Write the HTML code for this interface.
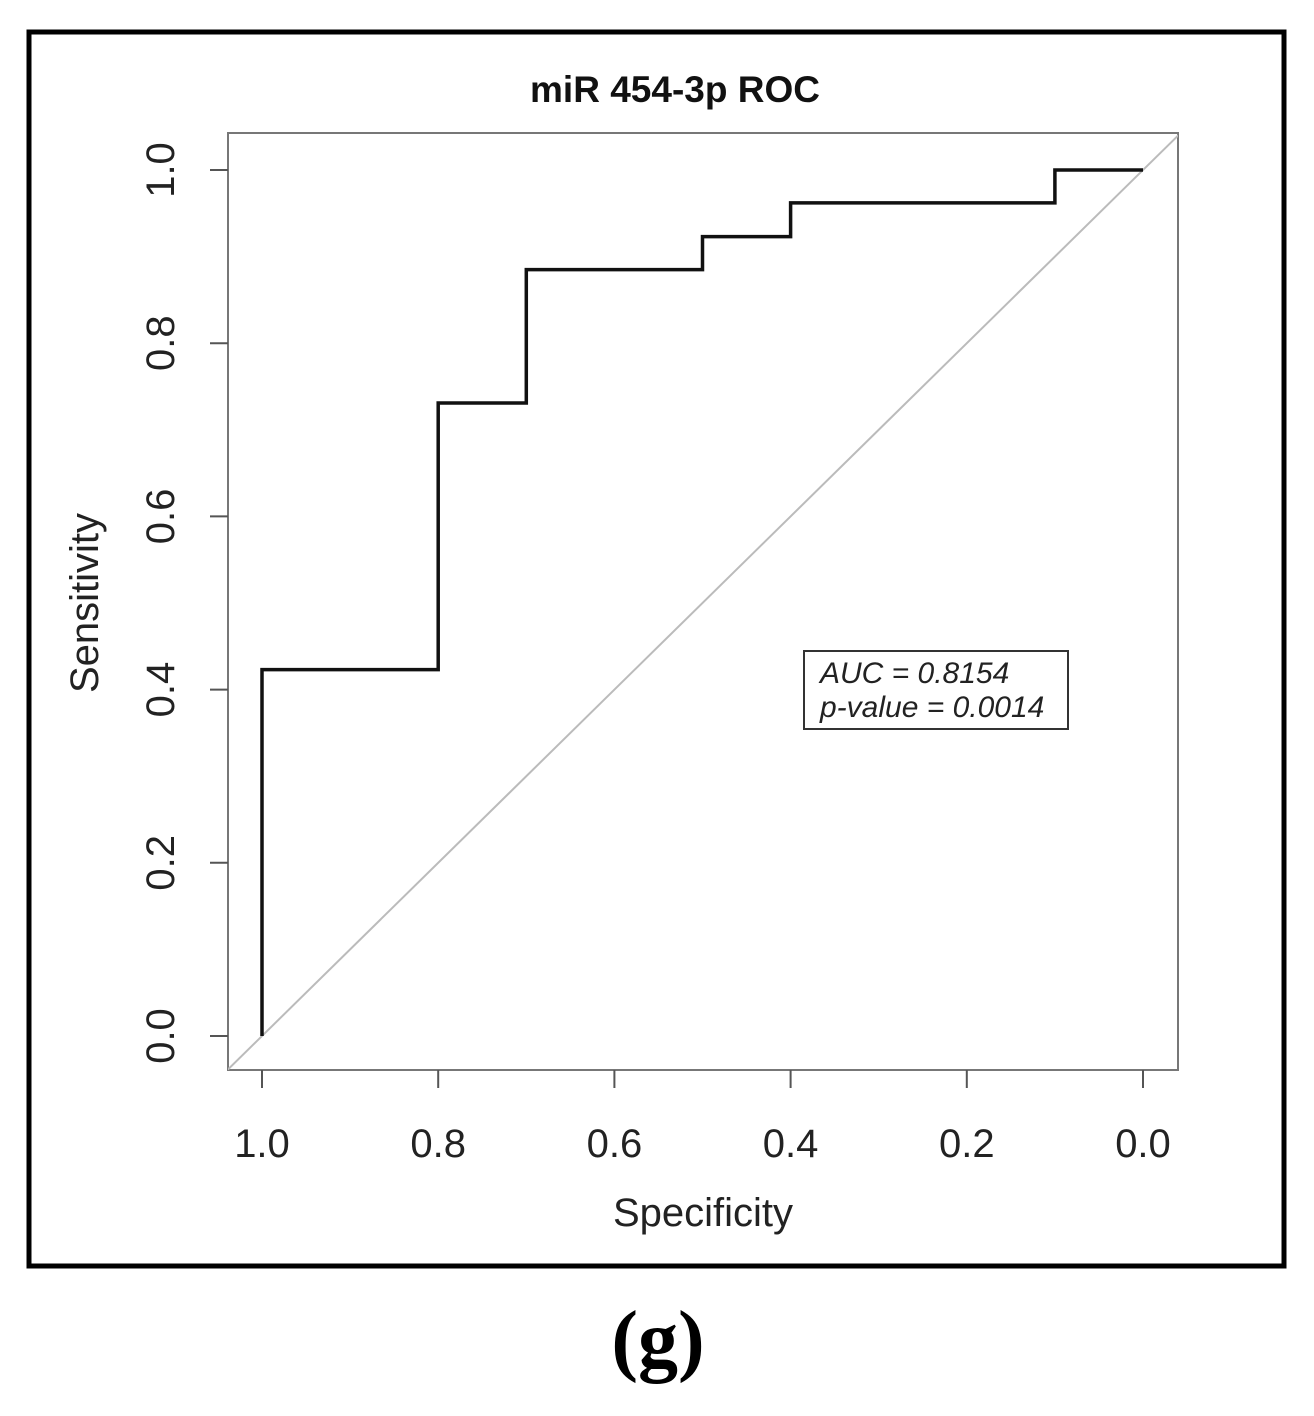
<!DOCTYPE html>
<html><head><meta charset="utf-8"><style>
html,body{margin:0;padding:0;background:#fff;}
svg text{font-family:"Liberation Sans",Arial,sans-serif;}
</style></head><body>
<svg width="1314" height="1411" viewBox="0 0 1314 1411" xmlns="http://www.w3.org/2000/svg">
<rect x="29" y="32" width="1255" height="1234" fill="#fff" stroke="#000" stroke-width="5"/>
<text x="675" y="102" font-size="37" font-weight="bold" text-anchor="middle" fill="#111">miR 454-3p ROC</text>
<defs><clipPath id="pc"><rect x="228" y="133" width="950" height="937"/></clipPath></defs>
<rect x="228" y="133" width="950" height="937" fill="none" stroke="#777" stroke-width="2"/>
<g id="diag" clip-path="url(#pc)"></g>
<g id="xt"></g><g id="yt"></g>
<path id="roc" fill="none" stroke="#111" stroke-width="3.5"/>
<text x="703" y="1226" font-size="40" text-anchor="middle" fill="#222">Specificity</text>
<text transform="translate(98,603) rotate(-90)" font-size="40" text-anchor="middle" fill="#222">Sensitivity</text>
<rect x="804" y="651" width="264" height="78" fill="#fff" stroke="#333" stroke-width="2"/>
<text x="820" y="683" font-size="30" font-style="italic" fill="#222">AUC = 0.8154</text>
<text x="820" y="717" font-size="30" font-style="italic" fill="#222">p-value = 0.0014</text>
<text x="658" y="1366" font-size="80" font-weight="bold" text-anchor="middle" fill="#000" style="font-family:'Liberation Serif',serif">(g)</text>
</svg>
<script>
const specificity=[1.0,1.0,0.8,0.8,0.7,0.7,0.5,0.5,0.4,0.4,0.1,0.1,0.0];
const sensitivity=[0,0.423,0.423,0.731,0.731,0.885,0.885,0.923,0.923,0.962,0.962,1.0,1.0];
const ticks=[1.0,0.8,0.6,0.4,0.2,0.0];
const tickLabels=["1.0","0.8","0.6","0.4","0.2","0.0"];
const yTicks=[0.0,0.2,0.4,0.6,0.8,1.0];
const yTickLabels=["0.0","0.2","0.4","0.6","0.8","1.0"];
const NS="http://www.w3.org/2000/svg";
const X=v=>1143-v*881, Y=v=>1036-v*866;
let d="";specificity.forEach((s,i)=>{d+=(i?"L":"M")+X(s)+","+Y(sensitivity[i]);});
document.getElementById('roc').setAttribute('d',d);
const dg=document.createElementNS(NS,'line');
dg.setAttribute('x1',X(1.05));dg.setAttribute('y1',Y(-0.05));dg.setAttribute('x2',X(-0.05));dg.setAttribute('y2',Y(1.05));
dg.setAttribute('stroke','#bbb');dg.setAttribute('stroke-width','2');


document.getElementById('diag').appendChild(dg);
const xt=document.getElementById('xt');
ticks.forEach((t,i)=>{
 const l=document.createElementNS(NS,'line');
 l.setAttribute('x1',X(t));l.setAttribute('x2',X(t));l.setAttribute('y1',1070);l.setAttribute('y2',1088);
 l.setAttribute('stroke','#555');l.setAttribute('stroke-width','2');
 
 
 xt.appendChild(l);
 const tx=document.createElementNS(NS,'text');
 tx.setAttribute('x',X(t));tx.setAttribute('y',1157);tx.setAttribute('font-size','40');tx.setAttribute('text-anchor','middle');tx.setAttribute('fill','#222');
 tx.textContent=tickLabels[i];
 
 
 xt.appendChild(tx);
});
const yt=document.getElementById('yt');
yTicks.forEach((t,i)=>{
 const l=document.createElementNS(NS,'line');
 l.setAttribute('x1',210);l.setAttribute('x2',228);l.setAttribute('y1',Y(t));l.setAttribute('y2',Y(t));
 l.setAttribute('stroke','#555');l.setAttribute('stroke-width','2');
 
 
 yt.appendChild(l);
 const tx=document.createElementNS(NS,'text');
 tx.setAttribute('transform','translate(174,'+Y(t)+') rotate(-90)');tx.setAttribute('font-size','40');tx.setAttribute('text-anchor','middle');tx.setAttribute('fill','#222');
 tx.textContent=yTickLabels[i];
 
 
 yt.appendChild(tx);
});
</script>
</body></html>
